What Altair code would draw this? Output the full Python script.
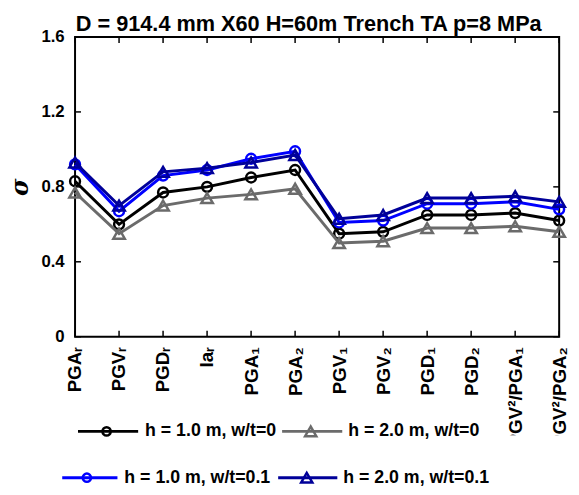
"""Sigma per intensity measure for a buried pipe, two burial depths and two w/t ratios."""
import altair as alt
import pandas as pd

categories = [
    "PGAᵣ", "PGVᵣ", "PGDᵣ", "Iaᵣ", "PGA₁", "PGA₂",
    "PGV₁", "PGV₂", "PGD₁", "PGD₂", "PGV²/PGA₁", "PGV²/PGA₂",
]
series_names = [
    "h = 1.0 m, w/t=0",
    "h = 2.0 m, w/t=0",
    "h = 1.0 m, w/t=0.1",
    "h = 2.0 m, w/t=0.1",
]
h1_wt0 = [0.83, 0.60, 0.77, 0.80, 0.85, 0.89, 0.55, 0.56, 0.65, 0.65, 0.66, 0.62]
h2_wt0 = [0.77, 0.55, 0.70, 0.74, 0.76, 0.79, 0.50, 0.51, 0.58, 0.58, 0.59, 0.56]
h1_wt01 = [0.92, 0.67, 0.86, 0.89, 0.95, 0.99, 0.61, 0.62, 0.71, 0.71, 0.72, 0.68]
h2_wt01 = [0.93, 0.70, 0.88, 0.90, 0.93, 0.97, 0.63, 0.65, 0.74, 0.74, 0.75, 0.72]
y_ticks = [0, 0.4, 0.8, 1.2, 1.6]
title_text = "D = 914.4 mm X60 H=60m Trench TA p=8 MPa"

series_colors = ["#000000", "#6b6b6b", "#0000ff", "#000099"]
series_shapes = ["circle", "triangle-up", "circle", "triangle-up"]

W, H = 491, 304
FONT = "Liberation Sans"

rows = []
for name, vals in zip(series_names, [h1_wt0, h2_wt0, h1_wt01, h2_wt01]):
    for cat, v in zip(categories, vals):
        rows.append({"series": name, "category": cat, "sigma": v})
df = pd.DataFrame(rows)

x_enc = alt.X(
    "category:N",
    sort=categories,
    scale=alt.Scale(type="point", padding=0),
    axis=alt.Axis(
        title=None, domain=False, ticks=False, labelAngle=270, labelAlign="right",
        labelBaseline="middle", labelPadding=10, labelFont=FONT, labelFontSize=19,
        labelFontWeight="bold", labelColor="black", labelOverlap=False,
    ),
)
y_enc = alt.Y(
    "sigma:Q",
    scale=alt.Scale(domain=[0, 1.6], nice=False, zero=True),
    axis=alt.Axis(
        values=y_ticks, format="~g", domain=False, ticks=False, grid=False,
        labelPadding=11, labelFont=FONT, labelFontSize=17, labelFontWeight="bold",
        labelColor="black", title="σ", titleFont="DejaVu Serif", titleFontSize=24,
        titleFontWeight="bold", titleFontStyle="italic", titleColor="black",
        titleAngle=270, titleAlign="center", titleBaseline="middle", titleX=-55, titleY=152,
    ),
)

layers = []

# inward ticks on all four sides (MATLAB box style)
cat_df = pd.DataFrame({"category": categories})
val_df = pd.DataFrame({"sigma": y_ticks})
for y0, y1 in [(H, H - 6), (0, 6)]:
    layers.append(
        alt.Chart(cat_df).mark_rule(color="black", strokeWidth=1.5)
        .encode(x=x_enc, y=alt.value(y0), y2=alt.value(y1))
    )
for x0, x1 in [(0, 6), (W - 6, W)]:
    layers.append(
        alt.Chart(val_df).mark_rule(color="black", strokeWidth=1.5)
        .encode(y=y_enc, x=alt.value(x0), x2=alt.value(x1))
    )

for name, col, shape in zip(series_names, series_colors, series_shapes):
    base = alt.Chart(df).transform_filter(alt.datum.series == name)
    layers.append(base.mark_line(color=col, strokeWidth=3).encode(x=x_enc, y=y_enc))
    layers.append(
        base.mark_point(shape=shape, color=col, filled=False, strokeWidth=2.5,
                        size=100 if shape == "circle" else 135, opacity=1)
        .encode(x=x_enc, y=y_enc)
    )

# white legend box hides the ends of the long tick labels, as in the original
layers.append(
    alt.Chart(pd.DataFrame({"box": [0]})).mark_rect(color="white")
    .encode(x=alt.value(414), x2=alt.value(503), y=alt.value(404), y2=alt.value(461))
)

# title as a text mark centred over the axes
layers.append(
    alt.Chart(pd.DataFrame({"title": [title_text]}))
    .mark_text(align="center", baseline="alphabetic", font=FONT, fontSize=22,
               fontWeight="bold", color="black")
    .encode(x=alt.value(237), y=alt.value(-6), text="title:N")
)

# hand-placed legend: line start, line end, marker x, text x, row y
legend_pos = [
    (3, 64, 32, 71, 400),
    (210, 271, 239, 277, 400),
    (-13, 43, 12, 50, 447),
    (206, 266, 235, 272, 447),
]
for name, col, shape, (x0, x1, xm, xt, yy) in zip(series_names, series_colors, series_shapes, legend_pos):
    item = alt.Chart(pd.DataFrame({"series": [name]}))
    layers.append(
        item.mark_rule(color=col, strokeWidth=3)
        .encode(x=alt.value(x0), x2=alt.value(x1), y=alt.value(yy))
    )
    layers.append(
        item.mark_point(shape=shape, color=col, filled=False, strokeWidth=2.5,
                        size=70 if shape == "circle" else 130, opacity=1)
        .encode(x=alt.value(xm), y=alt.value(yy))
    )
    layers.append(
        item.mark_text(align="left", baseline="middle", font=FONT, fontSize=18,
                       fontWeight="bold", color="black")
        .encode(x=alt.value(xt), y=alt.value(yy), text="series:N")
    )

chart = (
    alt.layer(*layers)
    .properties(
        width=W,
        height=H,
        padding={"left": 68, "top": 26, "right": 12, "bottom": 149},
        autosize=alt.AutoSizeParams(type="none"),
        background="white",
    )
    .configure_view(stroke="black", strokeWidth=2)
)

chart.save("out.html", embed_options={"renderer": "svg", "actions": False})
